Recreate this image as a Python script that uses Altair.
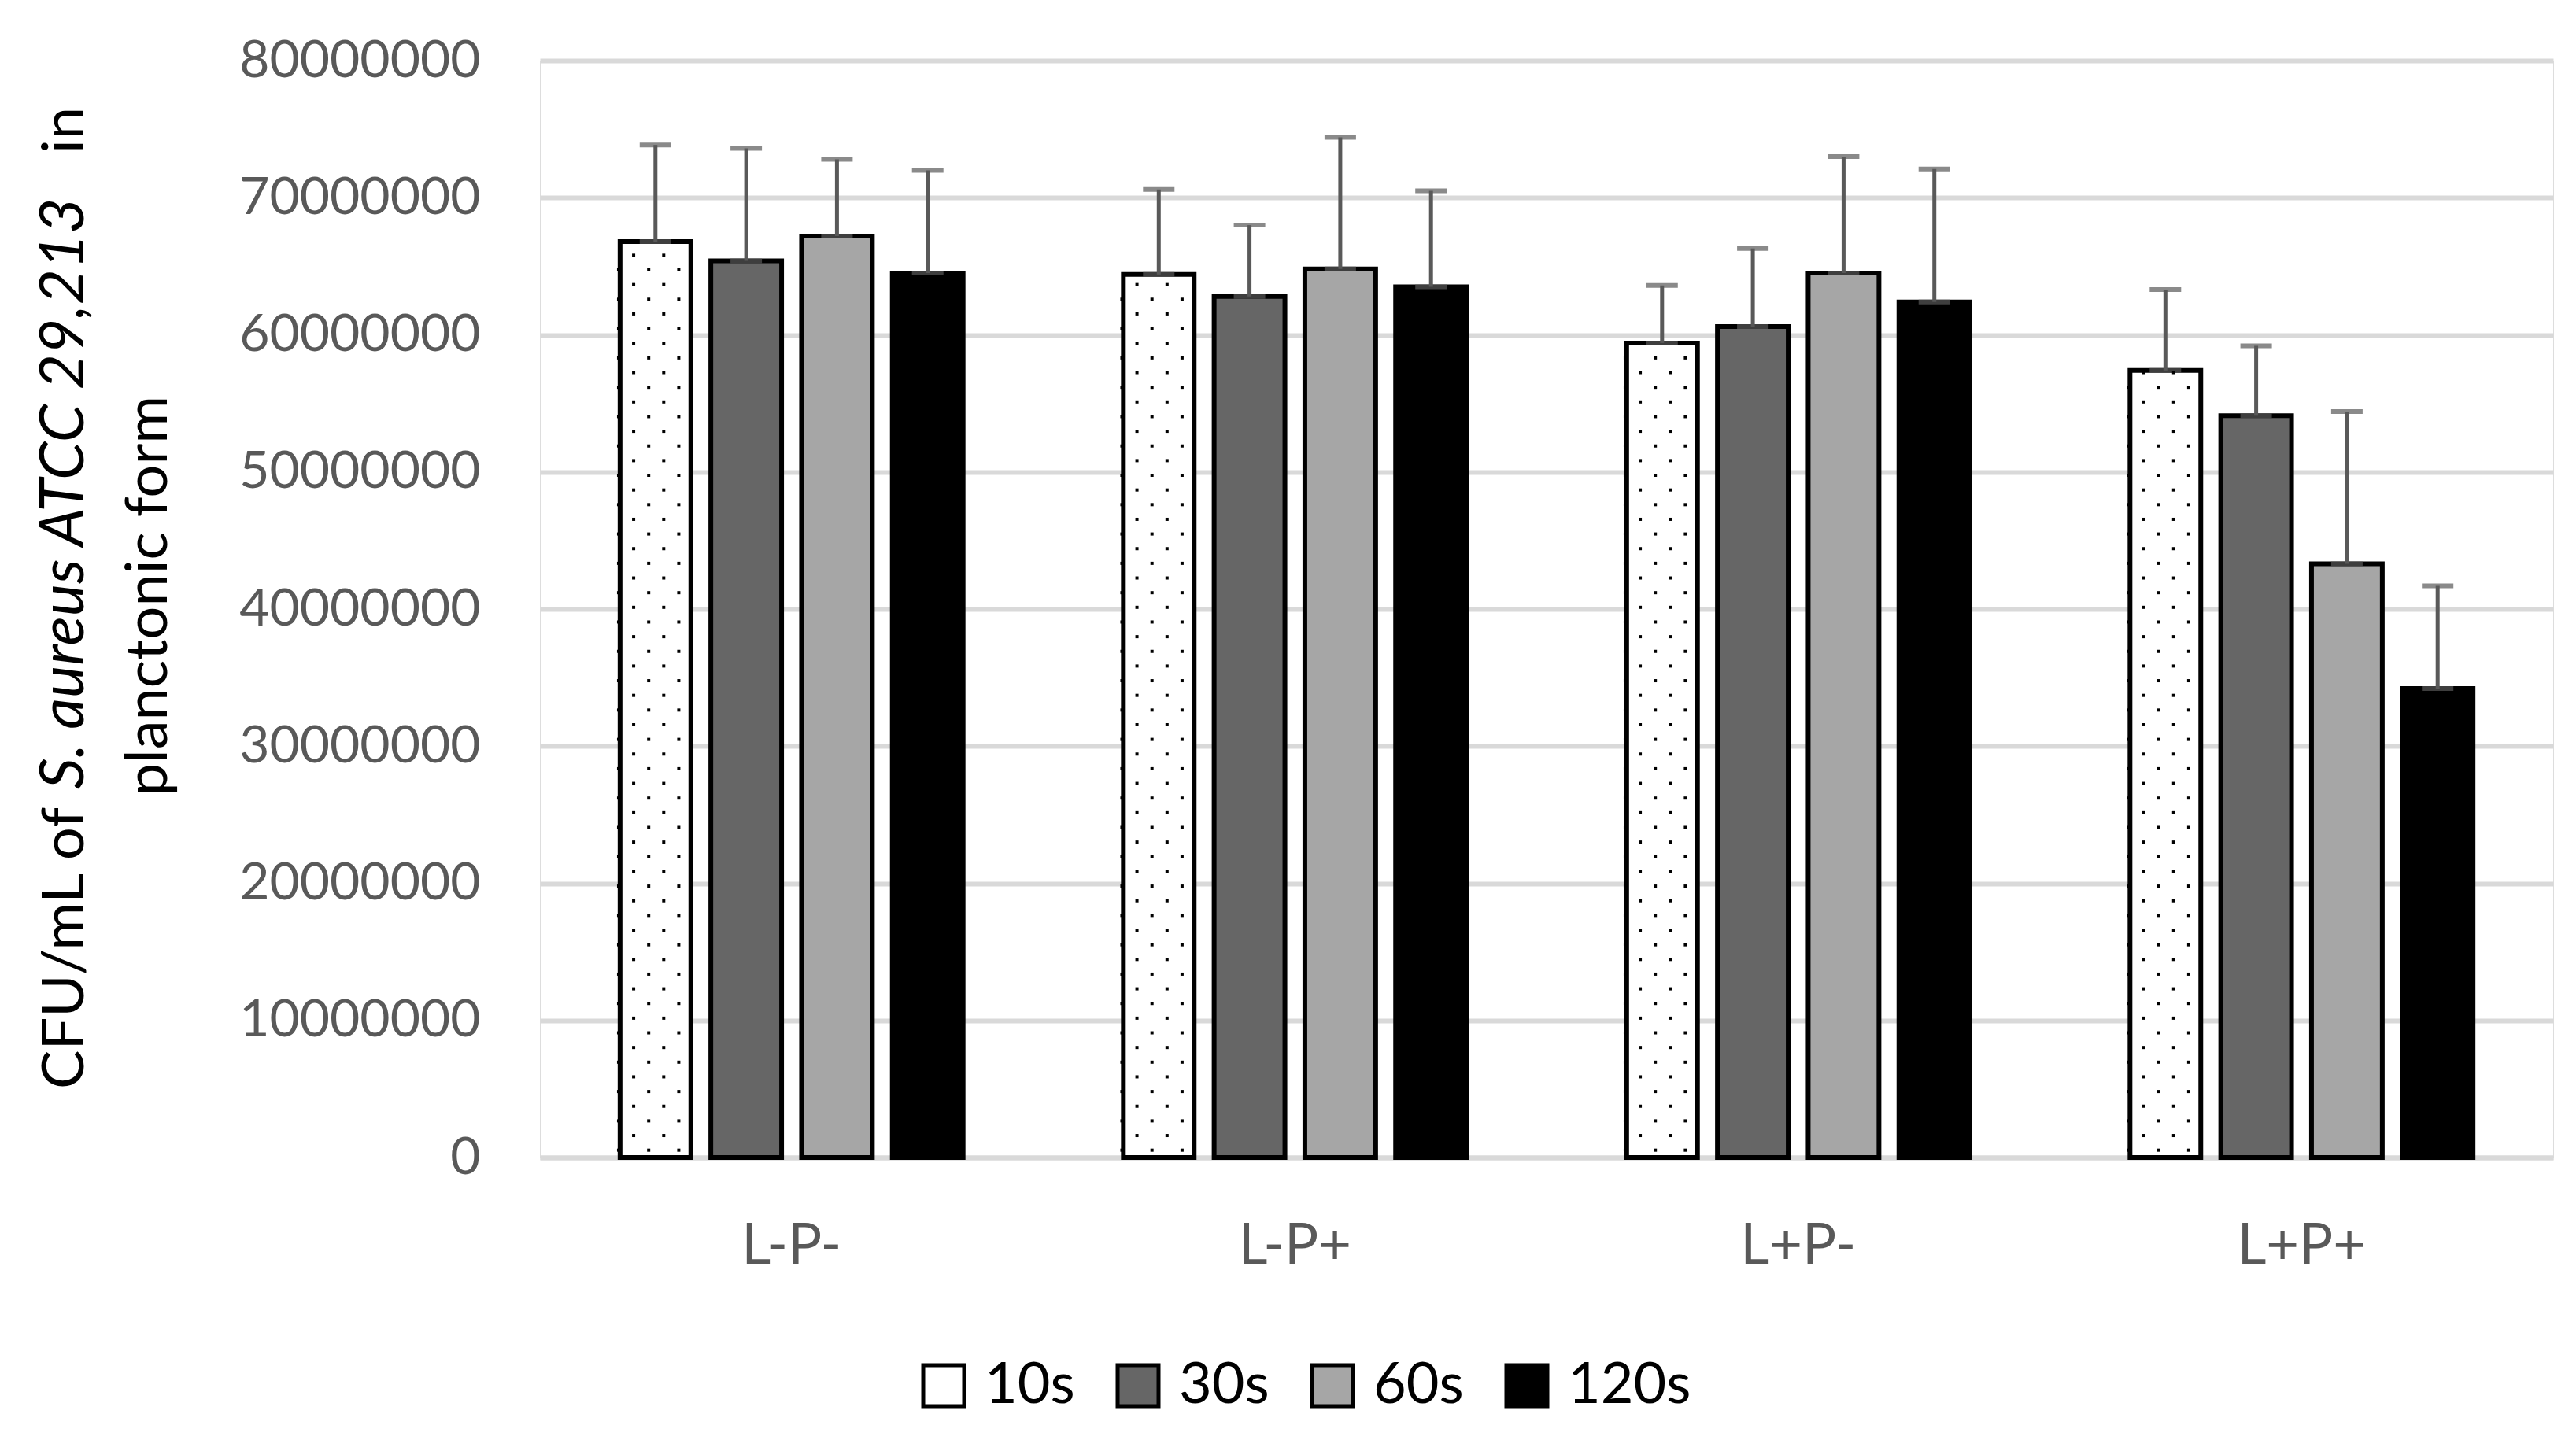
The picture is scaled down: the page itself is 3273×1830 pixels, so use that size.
import altair as alt
import pandas as pd

groups = ["L-P-", "L-P+", "L+P-", "L+P+"]
times = ["10s", "30s", "60s", "120s"]

# mean CFU/mL per group, one list per exposure time
mean_10s = [66.8e6, 64.4e6, 59.4e6, 57.4e6]
mean_30s = [65.4e6, 62.8e6, 60.6e6, 54.1e6]
mean_60s = [67.2e6, 64.8e6, 64.5e6, 43.3e6]
mean_120s = [64.5e6, 63.5e6, 62.4e6, 34.2e6]

# standard deviations (upper error bars)
sd_10s = [7.05e6, 6.2e6, 4.2e6, 5.9e6]
sd_30s = [8.2e6, 5.2e6, 5.7e6, 5.1e6]
sd_60s = [5.6e6, 9.6e6, 8.5e6, 11.1e6]
sd_120s = [7.5e6, 7.0e6, 9.7e6, 7.5e6]

y_ticks = [0, 10000000, 20000000, 30000000, 40000000, 50000000, 60000000, 70000000, 80000000]

fills = ["#ffffff", "#666666", "#a6a6a6", "#000000"]

means = [mean_10s, mean_30s, mean_60s, mean_120s]
sds = [sd_10s, sd_30s, sd_60s, sd_120s]
rows = []
for ti, t in enumerate(times):
    for gi, g in enumerate(groups):
        m = means[ti][gi]
        s = sds[ti][gi]
        rows.append({"group": g, "time": t, "mean": m, "upper": m + s})
df = pd.DataFrame(rows)

# dotted fill texture for the 10s bars (staggered dot rows inside each bar)
DOT_STEP = 1.07e6
slots = ["s%d" % i for i in range(34)]
dot_rows = []
for gi, g in enumerate(groups):
    top = mean_10s[gi]
    k = 0
    while (k + 0.6) * DOT_STEP < top:
        cols = [5, 7, 9] if k % 2 == 0 else [6, 8]
        for c in cols:
            dot_rows.append({"group": g, "slot": slots[c], "v": (k + 0.5) * DOT_STEP})
        k += 1
dots_df = pd.DataFrame(dot_rows)

FONT = "Lato"
GRAY = "#595959"

x_enc = alt.X("group:N", sort=groups,
              scale=alt.Scale(paddingInner=0, paddingOuter=0),
              axis=alt.Axis(title=None, labelAngle=0, labelFontSize=72, labelColor=GRAY,
                            ticks=False, domain=True, domainColor="#d9d9d9", domainWidth=6,
                            labelPadding=77, labelFont=FONT))
xoff = alt.XOffset("time:N", sort=times,
                   scale=alt.Scale(domain=times, paddingInner=0.22, paddingOuter=0.883))
y_scale = alt.Scale(domain=[0, 80000000], nice=False)

base = alt.Chart(df)

bars = base.mark_bar(stroke="black", strokeWidth=6, strokeJoin="miter").encode(
    x=x_enc,
    xOffset=xoff,
    y=alt.Y("mean:Q", scale=y_scale,
            axis=alt.Axis(title=None, values=y_ticks, format="d", labelFontSize=66,
                          labelColor=GRAY, labelFont=FONT, ticks=False, domain=False,
                          labelPadding=76, labelLimit=1000,
                          gridColor="#d9d9d9", gridWidth=6)),
    fill=alt.Fill("time:N", sort=times,
                  scale=alt.Scale(domain=times, range=fills),
                  legend=alt.Legend(title=None, orient="none", direction="horizontal",
                                    legendX=477, legendY=1648,
                                    symbolType="square", symbolSize=2704,
                                    symbolStrokeColor="black", symbolStrokeWidth=5,
                                    labelFontSize=72, labelFont=FONT, labelColor="black",
                                    labelOffset=16, columnPadding=44, padding=0)),
)

err = base.mark_rule(color=GRAY, strokeWidth=5).encode(
    x=alt.X("group:N", sort=groups),
    xOffset=xoff,
    y=alt.Y("mean:Q", scale=y_scale),
    y2="upper:Q",
)

cap_top = base.mark_tick(color=GRAY, thickness=6, size=40, orient="horizontal").encode(
    x=alt.X("group:N", sort=groups),
    xOffset=xoff,
    y=alt.Y("upper:Q", scale=y_scale),
)
cap_bot = base.mark_tick(color=GRAY, thickness=6, size=40, orient="horizontal").encode(
    x=alt.X("group:N", sort=groups),
    xOffset=xoff,
    y=alt.Y("mean:Q", scale=y_scale),
)

main = alt.layer(bars, err, cap_top, cap_bot)

dots = alt.Chart(dots_df).mark_square(size=16, color="black", opacity=1).encode(
    x=alt.X("group:N", sort=groups),
    xOffset=alt.XOffset("slot:N", sort=slots,
                        scale=alt.Scale(domain=slots, paddingInner=0, paddingOuter=0.23)),
    y=alt.Y("v:Q", scale=y_scale),
)

t1 = alt.Chart(pd.DataFrame({"t": ["CFU/mL of"]})).mark_text(
    angle=270, align="left", baseline="alphabetic", fontSize=74, font=FONT, color="black"
).encode(x=alt.value(-580), y=alt.value(1307), text="t:N")
t2 = alt.Chart(pd.DataFrame({"t": ["S. aureus ATCC 29,213"]})).mark_text(
    angle=270, align="left", baseline="alphabetic", fontSize=78, font=FONT, color="black",
    fontStyle="italic"
).encode(x=alt.value(-580), y=alt.value(926), text="t:N")
t3 = alt.Chart(pd.DataFrame({"t": ["in"]})).mark_text(
    angle=270, align="right", baseline="alphabetic", fontSize=74, font=FONT, color="black"
).encode(x=alt.value(-580), y=alt.value(59), text="t:N")
t4 = alt.Chart(pd.DataFrame({"t": ["planctonic form"]})).mark_text(
    angle=270, align="center", baseline="alphabetic", fontSize=74, font=FONT, color="black"
).encode(x=alt.value(-474), y=alt.value(680), text="t:N")

chart = alt.layer(main, dots, t1, t2, t3, t4).resolve_scale(xOffset="independent").properties(
    width=2558, height=1394,
    autosize=alt.AutoSizeParams(type="none"),
    padding={"left": 678, "top": 69, "right": 20, "bottom": 340},
).configure_view(stroke=None).configure(font=FONT)

chart.save("out.html", embed_options={"renderer": "svg", "actions": False})
